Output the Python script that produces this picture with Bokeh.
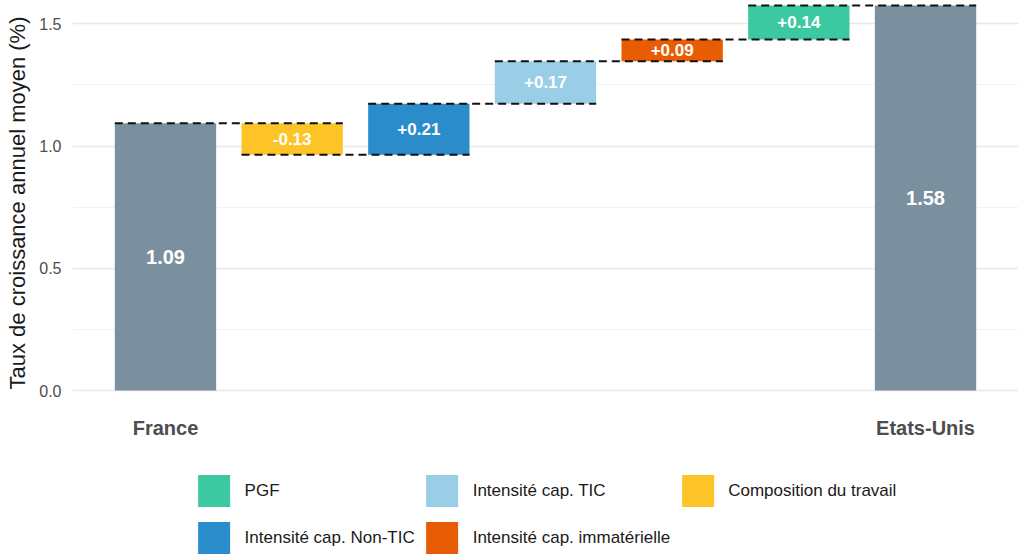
from bokeh.plotting import figure
from bokeh.models import (ColumnDataSource, FixedTicker, NumeralTickFormatter,
                          Range1d, Legend, LegendItem)
from bokeh.layouts import column
from bokeh.embed import file_html
from bokeh.resources import INLINE
from bokeh.core.properties import value

# ---------------- data ----------------
categories = ["France", "Composition du travail", "Intensité cap. Non-TIC",
              "Intensité cap. TIC", "Intensité cap. immatérielle", "PGF", "Etats-Unis"]
values = [1.093, -0.129, 0.209, 0.174, 0.089, 0.139, 1.575]
labels = ["1.09", "-0.13", "+0.21", "+0.17", "+0.09", "+0.14", "1.58"]
is_total = [True, False, False, False, False, False, True]
bar_colors = ["#7A909E", "#FCC427", "#2A8CCB", "#9ACDE6", "#E85D04", "#3CC8A0", "#7A909E"]
legend_order = ["PGF", "Intensité cap. Non-TIC", "Intensité cap. TIC",
                "Intensité cap. immatérielle", "Composition du travail"]
tick_labels = {0: "France", 6: "Etats-Unis"}
y_ticks = [0.0, 0.5, 1.0, 1.5]
y_minor = [0.25, 0.75, 1.25]

FONT = "Liberation Sans"
W = 0.8

# ---------------- waterfall geometry from data ----------------
xs = list(range(len(categories)))
bottoms, tops, ends = [], [], []
level = 0.0
for v, t in zip(values, is_total):
    if t:
        b, e = 0.0, v
        level = v
    else:
        b, e = level, level + v
        level = e
    bottoms.append(min(b, e))
    tops.append(max(b, e))
    ends.append(level)
mids = [(b + t) / 2 for b, t in zip(bottoms, tops)]

bars = ColumnDataSource(dict(x=xs, bottom=bottoms, top=tops, color=bar_colors))
seg = ColumnDataSource(dict(
    x0=[i - W / 2 for i in xs[:-1]],
    x1=[i + 1 + W / 2 for i in xs[:-1]],
    y=ends[:-1]))
tot_src = ColumnDataSource(dict(
    x=[x for x, t in zip(xs, is_total) if t],
    y=[m for m, t in zip(mids, is_total) if t],
    text=[l for l, t in zip(labels, is_total) if t]))
dlt_src = ColumnDataSource(dict(
    x=[x for x, t in zip(xs, is_total) if not t],
    y=[m for m, t in zip(mids, is_total) if not t],
    text=[l for l, t in zip(labels, is_total) if not t]))

# ---------------- main figure ----------------
p = figure(width=1024, height=450, x_range=Range1d(-0.734, 6.734),
           y_range=Range1d(-0.061, 1.595), output_backend="svg",
           toolbar_location=None, min_border_left=72, min_border_right=6,
           min_border_top=0, min_border_bottom=45)
p.outline_line_color = None
p.background_fill_color = "white"

p.vbar(x="x", width=W, bottom="bottom", top="top", fill_color="color",
       line_color=None, source=bars)
p.segment(x0="x0", y0="y", x1="x1", y1="y", line_color="#111111",
          line_width=2, line_dash="8 5", source=seg)
p.text(x="x", y="y", text="text", source=tot_src, text_color="white",
       text_font=value(FONT), text_font_style="bold", text_font_size="20px",
       text_align="center", text_baseline="middle")
p.text(x="x", y="y", text="text", source=dlt_src, text_color="white",
       text_font=value(FONT), text_font_style="bold", text_font_size="17px",
       text_align="center", text_baseline="middle")

yt = FixedTicker(ticks=y_ticks, minor_ticks=y_minor)
p.yaxis.ticker = yt
p.yaxis.formatter = NumeralTickFormatter(format="0.0")
p.yaxis.axis_label = "Taux de croissance annuel moyen (%)"
p.yaxis.axis_label_text_font = FONT
p.yaxis.axis_label_text_font_style = "normal"
p.yaxis.axis_label_text_font_size = "22px"
p.yaxis.axis_label_text_color = "#1a1a1a"
p.yaxis.axis_label_standoff = 6
p.yaxis.major_label_text_font = FONT
p.yaxis.major_label_text_font_size = "16px"
p.yaxis.major_label_text_color = "#4d4d4d"
p.yaxis.major_label_standoff = 11

p.xaxis.ticker = FixedTicker(ticks=list(tick_labels.keys()))
p.xaxis.major_label_overrides = tick_labels
p.xaxis.major_label_text_font = FONT
p.xaxis.major_label_text_font_style = "bold"
p.xaxis.major_label_text_font_size = "20px"
p.xaxis.major_label_text_color = "#4d4d4d"
p.xaxis.major_label_standoff = 11

for ax in (p.xaxis, p.yaxis):
    ax.axis_line_color = None
    ax.major_tick_line_color = None
    ax.minor_tick_line_color = None
    ax.major_tick_out = 0
    ax.minor_tick_out = 0

p.xgrid.visible = False
p.ygrid.ticker = yt
p.ygrid.grid_line_color = "#e8e8e8"
p.ygrid.grid_line_width = 1.5
p.ygrid.minor_grid_line_color = "#f2f2f2"
p.ygrid.minor_grid_line_width = 1

# ---------------- legend figure ----------------
lf = figure(width=1024, height=107, x_range=Range1d(0, 1), y_range=Range1d(0, 1),
            output_backend="svg", toolbar_location=None, min_border_left=72,
            min_border_right=6, min_border_top=20, min_border_bottom=0,
            x_axis_location=None, y_axis_location=None)
lf.outline_line_color = None
lf.grid.visible = False
items = []
for name in legend_order:
    idx = categories.index(name)
    # off-range single mark: only used to give the legend its colour key
    r = lf.vbar(x=[-10], bottom=[0], top=[0], width=W,
                fill_color=bar_colors[idx], line_color=None)
    items.append(LegendItem(label=name, renderers=[r]))
leg = Legend(items=items, location="center", orientation="vertical", nrows=2,
             glyph_width=40, glyph_height=40, label_standoff=11, spacing=7,
             padding=0, margin=0, border_line_color=None, background_fill_alpha=0,
             label_text_font=FONT, label_text_font_size="17px",
             label_text_color="#1a1a1a", label_height=40)
lf.add_layout(leg)

layout = column(p, lf)
open("out.html", "w").write(file_html(layout, INLINE))
